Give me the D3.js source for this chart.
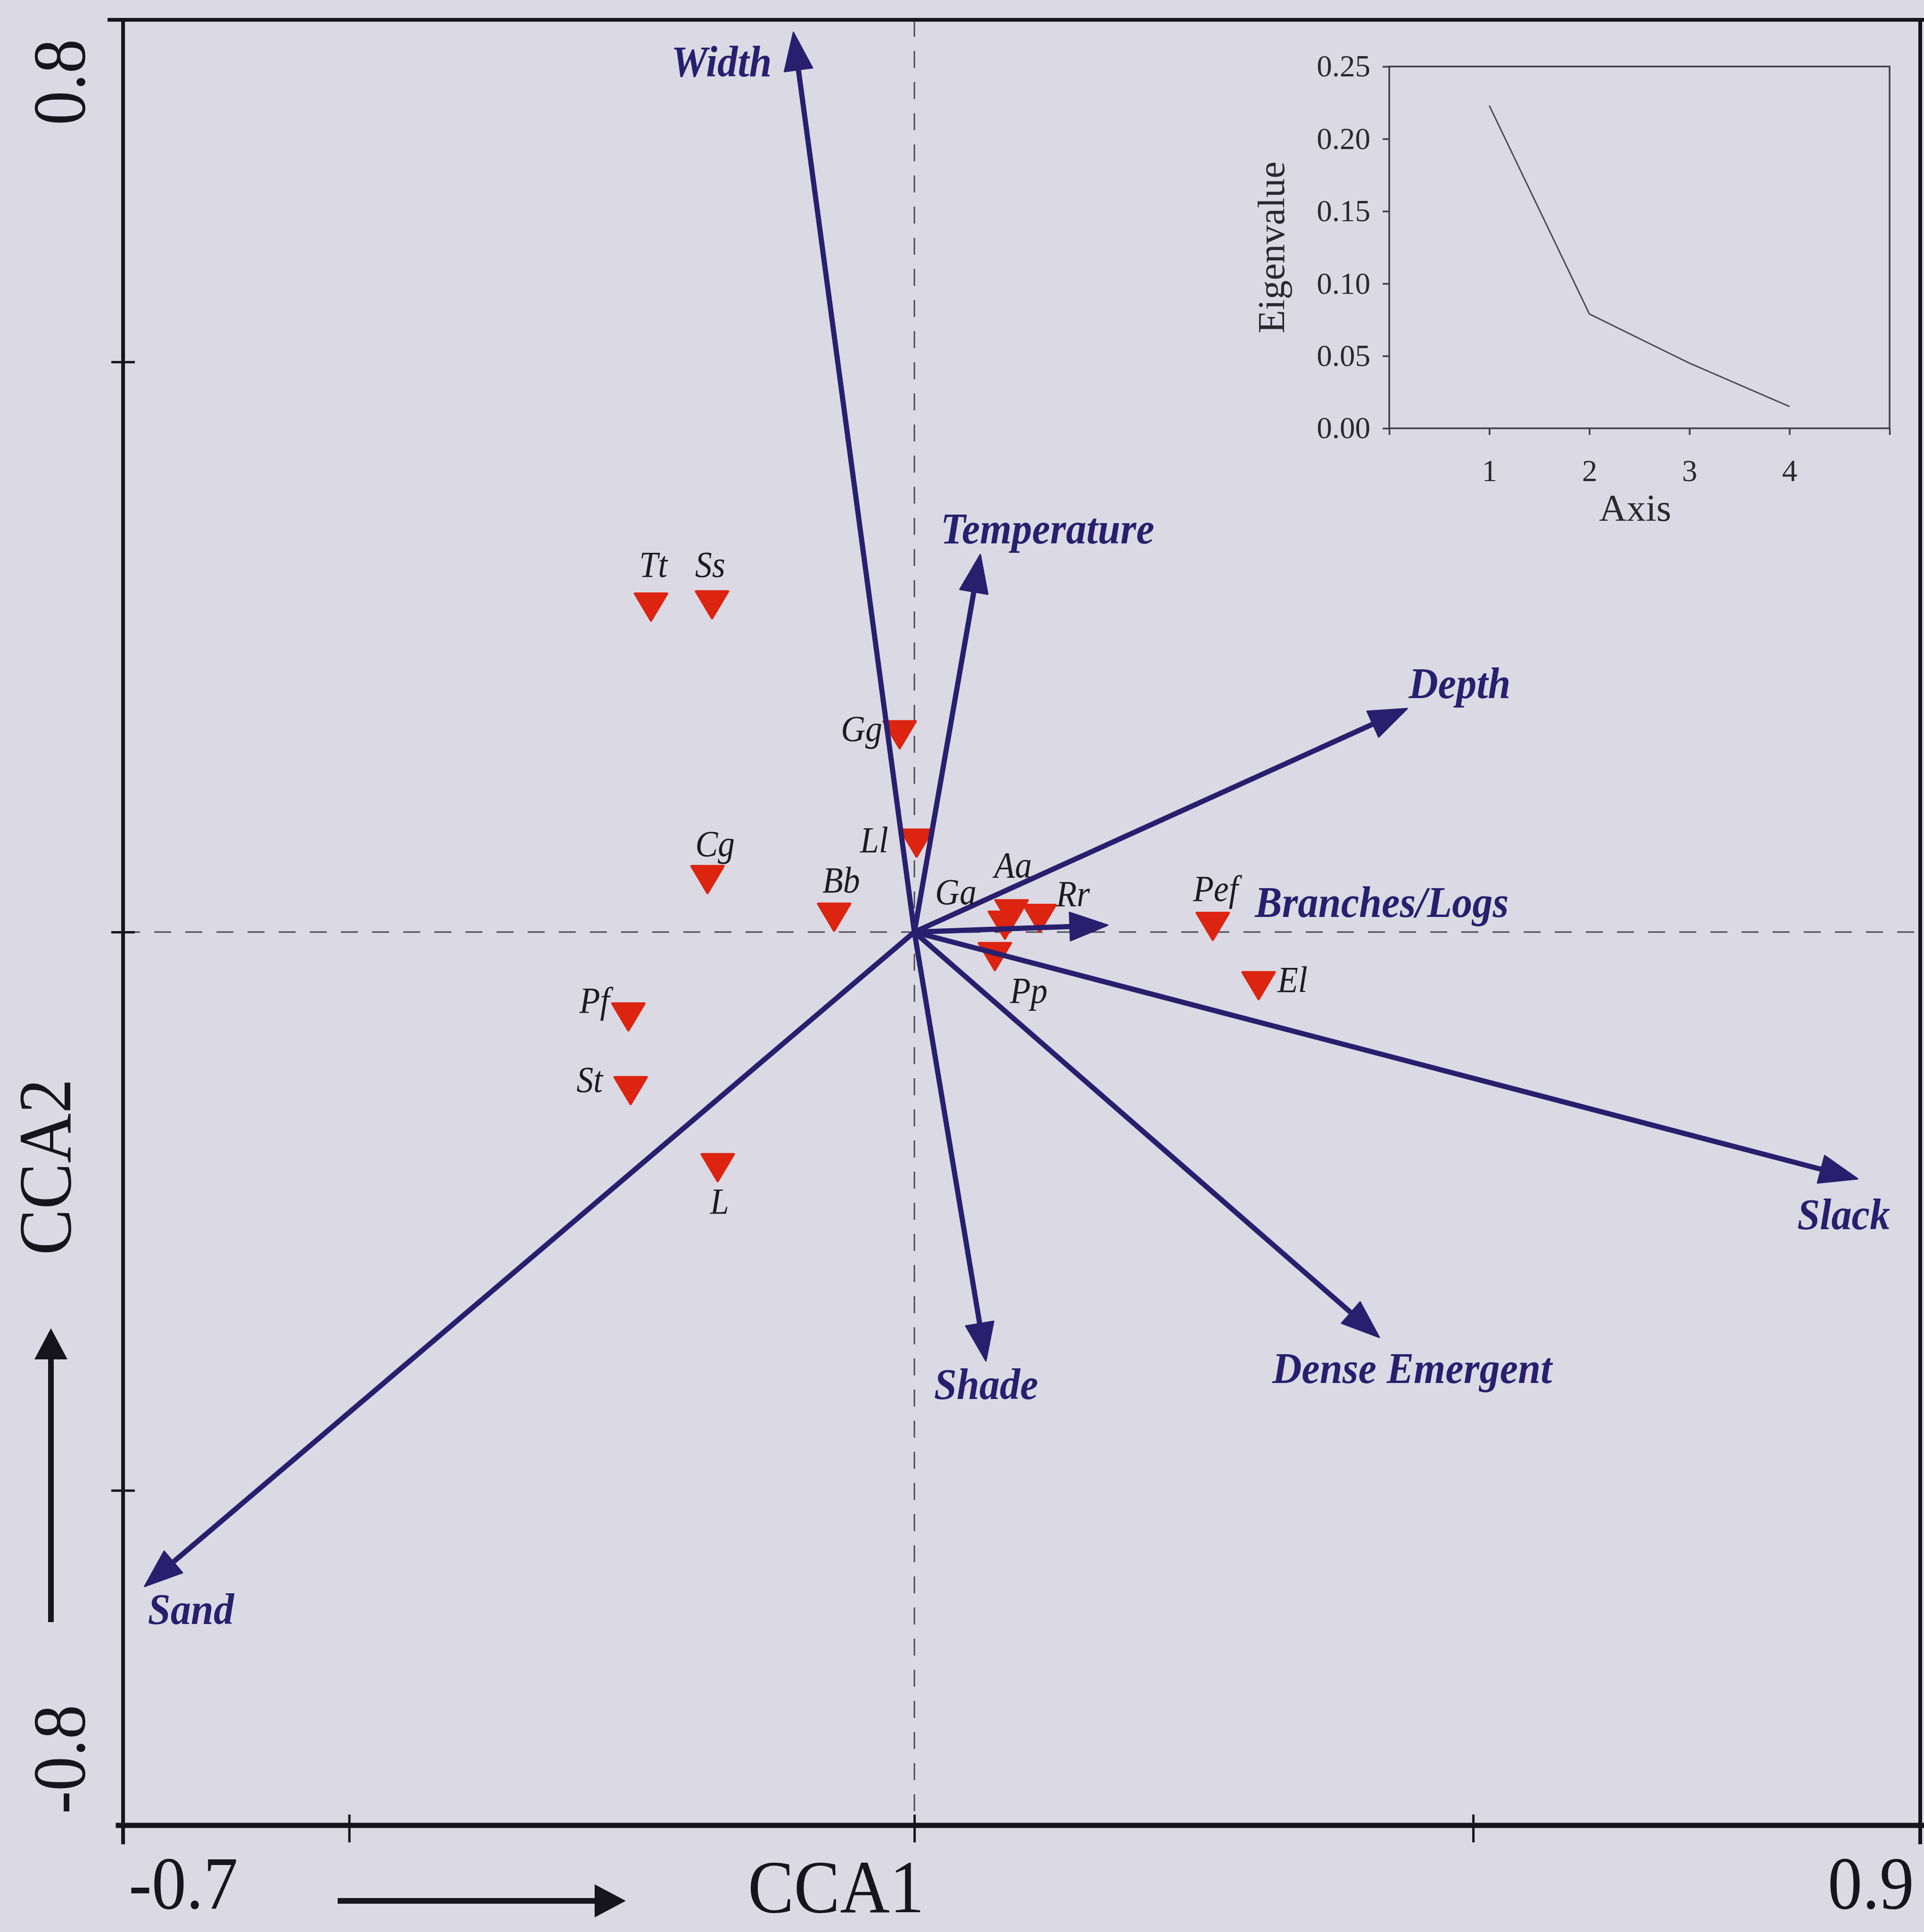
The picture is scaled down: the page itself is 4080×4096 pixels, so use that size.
<!DOCTYPE html>
<html>
<head>
<meta charset="utf-8">
<script src="https://cdn.jsdelivr.net/npm/d3@7"></script>
<style>
  html, body { margin: 0; padding: 0; background: #dbd9e3; }
  svg { display: block; }
</style>
</head>
<body>
<script>
// ---- Environmental variables (biplot arrows), CCA axis scores ----
const envVars  = ["Width", "Temperature", "Depth", "Branches/Logs", "Slack", "Dense Emergent", "Shade", "Sand"];
const envCCA1  = [-0.107, 0.059, 0.441, 0.173, 0.844, 0.416, 0.064, -0.681];
const envCCA2  = [ 0.789, 0.331, 0.196, 0.006, -0.221, -0.363, -0.384, -0.586];

// ---- Species scores ----
const species  = ["Tt", "Ss", "Gg", "Ll", "Cg", "Bb", "Aa", "Ga", "Rr", "Pp", "Pef", "El", "Pf", "St", "L"];
const spCCA1   = [-0.233, -0.179, -0.013, 0.002, -0.183, -0.071, 0.087, 0.081, 0.112, 0.072, 0.267, 0.308, -0.253, -0.251, -0.174];
const spCCA2   = [ 0.285,  0.287,  0.173, 0.078,  0.046,  0.013, 0.016, 0.006, 0.012, -0.022, 0.005, -0.048, -0.076, -0.142, -0.211];

// ---- Axis ticks ----
const xTicks = [-0.5, 0, 0.5];
const yTicks = [-0.5, 0, 0.5];
const xEndLabels = ["-0.7", "0.9"];
const yEndLabels = ["0.8", "-0.8"];

// ---- Scree plot (inset) ----
const eigenAxes   = [1, 2, 3, 4];
const eigenvalues = [0.223, 0.079, 0.045, 0.015];
const eigenTicks  = [0, 0.05, 0.10, 0.15, 0.20, 0.25];
const eigenAxisTicks = [0, 1, 2, 3, 4, 5];

// ---- Label placement (pixel offsets from the mark) ----
const envLabelPos = {
  "Width":          { anchor: "end",   dx: -46,  dy: 93 },
  "Temperature":    { anchor: "start", dx: -84,  dy: -24 },
  "Depth":          { anchor: "start", dx: 3,    dy: -22 },
  "Branches/Logs":  { anchor: "start", dx: 312,  dy: -17 },
  "Slack":          { anchor: "start", dx: -128, dy: 107 },
  "Dense Emergent": { anchor: "start", dx: -227, dy: 97 },
  "Shade":          { anchor: "start", dx: -110, dy: 81 },
  "Sand":           { anchor: "start", dx: 7,    dy: 80 }
};
const spLabelPos = {
  "Tt":  { anchor: "middle", dx: 5,    dy: -64 },
  "Ss":  { anchor: "middle", dx: -4,   dy: -59 },
  "Gg":  { anchor: "end",    dx: -37,  dy: 13 },
  "Ll":  { anchor: "end",    dx: -60,  dy: 20 },
  "Cg":  { anchor: "middle", dx: 16,   dy: -50 },
  "Bb":  { anchor: "middle", dx: 15,   dy: -53 },
  "Aa":  { anchor: "middle", dx: 3,    dy: -77 },
  "Ga":  { anchor: "middle", dx: -104, dy: -44 },
  "Rr":  { anchor: "start",  dx: 35,   dy: -26 },
  "Pp":  { anchor: "middle", dx: 72,   dy: 98 },
  "Pef": { anchor: "middle", dx: 6,    dy: -54 },
  "El":  { anchor: "start",  dx: 40,   dy: 13 },
  "Pf":  { anchor: "end",    dx: -40,  dy: -9 },
  "St":  { anchor: "end",    dx: -59,  dy: 3 },
  "L":   { anchor: "middle", dx: 4,    dy: 97 }
};

// ---- Styling ----
const W = 4080, H = 4096;
const BG = "#dbd9e3";
const NAVY = "#281f6e";
const RED = "#dc2410";
const INK = "#16141c";
const DASH = "#4a4856";
const SERIF = "'Liberation Serif', 'Times New Roman', serif";
const CONDENSE = 0.92;

const svg = d3.select("body").append("svg")
  .attr("width", W).attr("height", H)
  .attr("viewBox", `0 0 ${W} ${H}`);

svg.append("rect").attr("width", W).attr("height", H).attr("fill", BG);

// Ordination scales (zero sits where both dashed axes cross)
const x = d3.scaleLinear().domain([-0.7, 0, 0.9]).range([261, 1939, 4072]);
const y = d3.scaleLinear().domain([-0.8, 0, 0.8]).range([3870, 1976, 42]);

function addText(g, str, px, py, o) {
  return g.append("text")
    .attr("transform", `translate(${px},${py}) rotate(${o.rotate || 0}) scale(${o.sx == null ? CONDENSE : o.sx},1)`)
    .attr("text-anchor", o.anchor || "start")
    .attr("font-family", SERIF)
    .attr("font-size", o.size)
    .attr("font-weight", o.weight || "normal")
    .attr("font-style", o.style || "normal")
    .attr("fill", o.fill || INK)
    .text(str);
}

function arrowPath(x0, y0, x1, y1, headLen, headW) {
  const dx = x1 - x0, dy = y1 - y0;
  const L = Math.hypot(dx, dy);
  const ux = dx / L, uy = dy / L;
  const bx = x1 - ux * headLen, by = y1 - uy * headLen;
  const nx = -uy, ny = ux;
  return {
    shaft: [[x0, y0], [bx + ux * 4, by + uy * 4]],
    head: [[x1, y1], [bx + nx * headW / 2, by + ny * headW / 2], [bx - nx * headW / 2, by - ny * headW / 2]]
  };
}

// ---- Dashed zero lines ----
const gz = svg.append("g").attr("stroke", DASH).attr("stroke-width", 3).attr("stroke-dasharray", "36 30");
gz.append("line").attr("x1", x(0)).attr("x2", x(0)).attr("y1", y(0.8)).attr("y2", y(-0.8));
gz.append("line").attr("x1", x(-0.7)).attr("x2", x(0.9)).attr("y1", y(0)).attr("y2", y(0));

// ---- Species markers (downward triangles) ----
const TW = 68, TH = 57;
const spData = species.map((s, i) => ({ name: s, c1: spCCA1[i], c2: spCCA2[i] }));
const gsp = svg.append("g");
gsp.selectAll("path").data(spData).join("path")
  .attr("d", d => {
    const p = d3.path();
    const cx = x(d.c1), cy = y(d.c2);
    p.moveTo(cx - TW / 2, cy - TH / 2);
    p.lineTo(cx + TW / 2, cy - TH / 2);
    p.lineTo(cx, cy + TH / 2);
    p.closePath();
    return p.toString();
  })
  .attr("fill", RED).attr("stroke", RED).attr("stroke-width", 5).attr("stroke-linejoin", "round");

// ---- Environmental arrows ----
const envData = envVars.map((v, i) => ({ name: v, c1: envCCA1[i], c2: envCCA2[i] }));
const garr = svg.append("g");
envData.forEach(d => {
  const a = arrowPath(x(0), y(0), x(d.c1), y(d.c2), 80, 60);
  garr.append("path").attr("d", d3.line()(a.shaft))
    .attr("stroke", NAVY).attr("stroke-width", 11).attr("fill", "none").attr("stroke-linecap", "round");
  garr.append("path").attr("d", d3.line()(a.head) + "Z")
    .attr("fill", NAVY).attr("stroke", NAVY).attr("stroke-width", 3).attr("stroke-linejoin", "round");
});

// Arrow labels
const genv = svg.append("g");
envData.forEach(d => {
  const p = envLabelPos[d.name];
  addText(genv, d.name, x(d.c1) + p.dx, y(d.c2) + p.dy,
    { size: 94, anchor: p.anchor, weight: "bold", style: "italic", fill: NAVY });
});

// Species labels
const gspl = svg.append("g");
spData.forEach(d => {
  const p = spLabelPos[d.name];
  addText(gspl, d.name, x(d.c1) + p.dx, y(d.c2) + p.dy,
    { size: 78, anchor: p.anchor, style: "italic", fill: "#1c1a22" });
});

// ---- Frame and axes ----
const gFrame = svg.append("g").attr("stroke", INK).attr("fill", "none").attr("stroke-linecap", "square");
gFrame.append("line").attr("x1", x(-0.7) - 29).attr("x2", x(0.9) + 4).attr("y1", y(0.8)).attr("y2", y(0.8)).attr("stroke-width", 8);
gFrame.append("line").attr("x1", x(-0.7)).attr("x2", x(-0.7)).attr("y1", y(0.8)).attr("y2", y(-0.8) + 36).attr("stroke-width", 8);
gFrame.append("line").attr("x1", x(0.9)).attr("x2", x(0.9)).attr("y1", y(0.8)).attr("y2", y(-0.8) + 36).attr("stroke-width", 8);
gFrame.append("line").attr("x1", x(-0.7) - 10).attr("x2", x(0.9) + 4).attr("y1", y(-0.8)).attr("y2", y(-0.8)).attr("stroke-width", 11);

const gx = svg.append("g").attr("transform", `translate(0,${y(-0.8)})`)
  .call(d3.axisBottom(x).tickValues(xTicks).tickFormat("").tickSizeOuter(0));
gx.select(".domain").remove();
gx.selectAll(".tick line").attr("y1", -23).attr("y2", 36).attr("stroke", INK).attr("stroke-width", 5);

const gy = svg.append("g").attr("transform", `translate(${x(-0.7)},0)`)
  .call(d3.axisLeft(y).tickValues(yTicks).tickFormat("").tickSizeOuter(0));
gy.select(".domain").remove();
gy.selectAll(".tick line").attr("x1", 25).attr("x2", -25).attr("stroke", INK).attr("stroke-width", 5);

// End-of-axis values and axis titles
const gLab = svg.append("g");
addText(gLab, xEndLabels[0], x(-0.7) + 12, 4046, { size: 159 });
addText(gLab, xEndLabels[1], x(0.9) - 196, 4046, { size: 159 });
addText(gLab, "CCA1", x(0) - 353, 4054, { size: 159 });
addText(gLab, yEndLabels[0], x(-0.7) - 82, y(0.8) + 132, { size: 159, anchor: "middle", rotate: -90 });
addText(gLab, yEndLabels[1], x(-0.7) - 82, y(-0.8) - 140, { size: 159, anchor: "middle", rotate: -90 });
addText(gLab, "CCA2", x(-0.7) - 112, y(0) + 498, { size: 159, anchor: "middle", rotate: -90 });

// Direction arrows beside the axis titles
function axisArrow(g, x0, y0, x1, y1) {
  const a = arrowPath(x0, y0, x1, y1, 66, 70);
  g.append("path").attr("d", d3.line()(a.shaft)).attr("stroke", INK).attr("stroke-width", 12).attr("fill", "none");
  g.append("path").attr("d", d3.line()(a.head) + "Z").attr("fill", INK);
}
axisArrow(gLab, 716, 4030, 1327, 4030);
axisArrow(gLab, 108, 3439, 108, 2816);

// ---- Inset: eigenvalue scree plot ----
const ix = d3.scaleLinear().domain([0, 5]).range([2946, 4007]);
const iy = d3.scaleLinear().domain([0, 0.25]).range([908, 141]);
const INSET = "#3e3d47";
const gi = svg.append("g");

gi.append("rect")
  .attr("x", ix(0)).attr("y", iy(0.25))
  .attr("width", ix(5) - ix(0)).attr("height", iy(0) - iy(0.25))
  .attr("fill", "none").attr("stroke", INSET).attr("stroke-width", 3.5);

const iax = gi.append("g").attr("transform", `translate(0,${iy(0)})`)
  .call(d3.axisBottom(ix).tickValues(eigenAxisTicks)
    .tickFormat(d => (d >= 1 && d <= 4) ? d : "")
    .tickSize(14).tickPadding(52).tickSizeOuter(0));
const iay = gi.append("g").attr("transform", `translate(${ix(0)},0)`)
  .call(d3.axisLeft(iy).tickValues(eigenTicks).tickFormat(d3.format(".2f"))
    .tickSize(14).tickPadding(26).tickSizeOuter(0));
[iax, iay].forEach(g => {
  g.select(".domain").remove();
  g.selectAll(".tick line").attr("stroke", INSET).attr("stroke-width", 3.5);
  g.selectAll(".tick text").attr("font-family", SERIF).attr("font-size", 65).attr("fill", "#2a2930");
});

gi.append("path")
  .datum(eigenAxes.map((a, i) => [a, eigenvalues[i]]))
  .attr("d", d3.line().x(d => ix(d[0])).y(d => iy(d[1])))
  .attr("fill", "none").attr("stroke", "#4a4953").attr("stroke-width", 3);

addText(gi, "Axis", (ix(0) + ix(5)) / 2 - 9, 1104, { size: 81, anchor: "middle", sx: 1, fill: "#2a2930" });
addText(gi, "Eigenvalue", 2723, (iy(0) + iy(0.25)) / 2, { size: 81, anchor: "middle", rotate: -90, sx: 1, fill: "#2a2930" });
</script>
</body>
</html>
